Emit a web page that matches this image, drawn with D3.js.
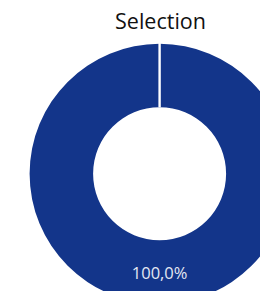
<!DOCTYPE html>
<html>
<head>
<meta charset="utf-8">
<script src="https://cdn.jsdelivr.net/npm/d3@7"></script>
<style>
  body { margin: 0; background: #fff; overflow: hidden; }
  svg { display: block; }
</style>
</head>
<body>
<div id="chart"></div>
<script>
// Chart data
var categories = ['Selection']
var values = [100]
var title = 'Selection'

var width = 260
var height = 291
var cx = 159.6
var cy = 173.8
var outerR = 130
var innerR = 66.5

const svg = d3.select('#chart')
  .append('svg')
  .attr('width', width)
  .attr('height', height)

// Title
svg.append('text')
  .attr('x', 160.5)
  .attr('y', 29)
  .attr('text-anchor', 'middle')
  .style('font-family', '"Open Sans", sans-serif')
  .style('font-size', '21.5px')
  .style('fill', '#111')
  .text(title)

var g = svg.append('g')
  .attr('transform', 'translate(' + cx + ',' + cy + ')')

var pie = d3.pie().sort(null).value(function (d) { return d })
var arcs = pie(values)

var arc = d3.arc()
  .innerRadius(innerR)
  .outerRadius(outerR)

var color = d3.scaleOrdinal().domain(categories).range(['#13358a'])

g.selectAll('path')
  .data(arcs)
  .enter()
  .append('path')
  .attr('d', arc)
  .attr('fill', function (d, i) { return color(categories[i]) })

// Separator line where each slice begins
g.selectAll('.sep')
  .data(arcs)
  .enter()
  .append('line')
  .attr('class', 'sep')
  .attr('x1', function (d) { return Math.sin(d.startAngle) * innerR })
  .attr('y1', function (d) { return -Math.cos(d.startAngle) * innerR })
  .attr('x2', function (d) { return Math.sin(d.startAngle) * (outerR + 1) })
  .attr('y2', function (d) { return -Math.cos(d.startAngle) * (outerR + 1) })
  .attr('stroke', '#fff')
  .attr('stroke-width', 2.4)

// Percentage labels
var total = d3.sum(values)
var fmt = d3.formatLocale({ decimal: ',', thousands: '.', grouping: [3], currency: ['', ''] }).format('.1%')

g.selectAll('.lbl')
  .data(arcs)
  .enter()
  .append('text')
  .attr('class', 'lbl')
  .attr('transform', function (d) { return 'translate(' + arc.centroid(d) + ')' })
  .attr('dy', '0.42em')
  .attr('text-anchor', 'middle')
  .style('font-family', '"Open Sans", sans-serif')
  .style('font-size', '16.5px')
  .style('fill', '#e4e8f2')
  .text(function (d) { return fmt(d.value / total) })
</script>
</body>
</html>
